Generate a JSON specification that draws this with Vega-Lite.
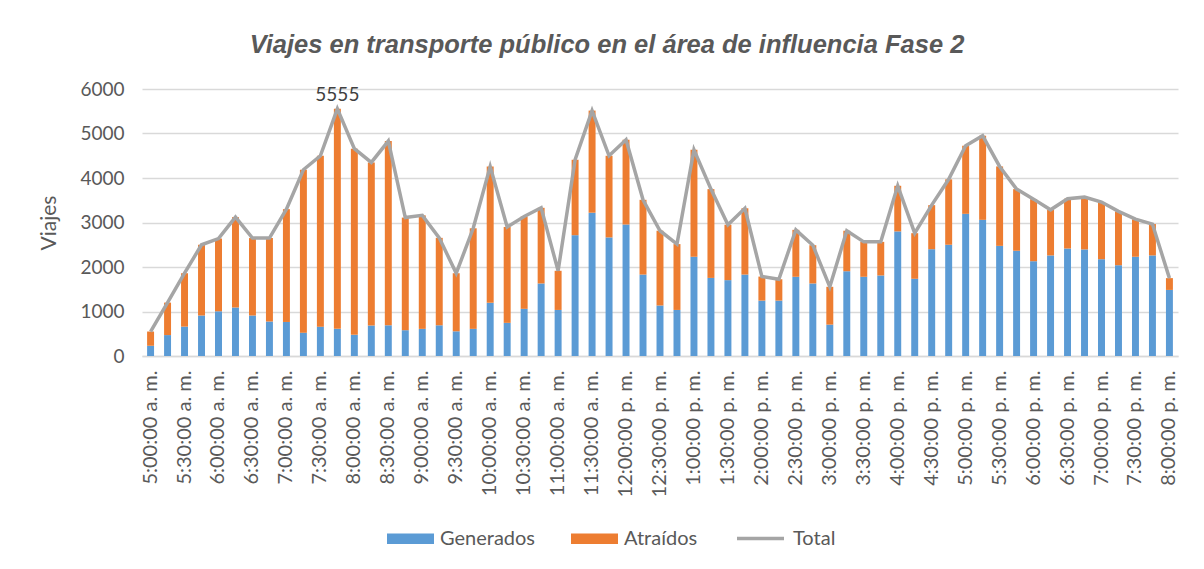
{
  "$schema": "https://vega.github.io/schema/vega-lite/v6.json",
  "width": 1036,
  "height": 267,
  "autosize": {"type": "none"},
  "padding": {"left": 142, "top": 89, "right": 26, "bottom": 213},
  "background": "white",
  "title": {
    "text": "Viajes en transporte público en el área de influencia Fase 2",
    "font": "Liberation Sans",
    "fontSize": 25.5,
    "fontWeight": "bold",
    "fontStyle": "italic",
    "color": "#595959",
    "anchor": "middle",
    "dx": -53,
    "offset": 22
  },
  "data": {
    "values": [
      {"t": "5:00:00 a. m.", "gen": 230, "atr": 320, "total": 550},
      {"t": "5:15:00 a. m.", "gen": 470, "atr": 730, "total": 1200},
      {"t": "5:30:00 a. m.", "gen": 660, "atr": 1200, "total": 1860},
      {"t": "5:45:00 a. m.", "gen": 910, "atr": 1590, "total": 2500},
      {"t": "6:00:00 a. m.", "gen": 1005, "atr": 1635, "total": 2640},
      {"t": "6:15:00 a. m.", "gen": 1090, "atr": 2030, "total": 3120},
      {"t": "6:30:00 a. m.", "gen": 910, "atr": 1740, "total": 2650},
      {"t": "6:45:00 a. m.", "gen": 775, "atr": 1875, "total": 2650},
      {"t": "7:00:00 a. m.", "gen": 765, "atr": 2535, "total": 3300},
      {"t": "7:15:00 a. m.", "gen": 525, "atr": 3660, "total": 4185},
      {"t": "7:30:00 a. m.", "gen": 660, "atr": 3840, "total": 4500},
      {"t": "7:45:00 a. m.", "gen": 610, "atr": 4945, "total": 5555},
      {"t": "8:00:00 a. m.", "gen": 475, "atr": 4185, "total": 4660},
      {"t": "8:15:00 a. m.", "gen": 685, "atr": 3665, "total": 4350},
      {"t": "8:30:00 a. m.", "gen": 690, "atr": 4140, "total": 4830},
      {"t": "8:45:00 a. m.", "gen": 580, "atr": 2530, "total": 3110},
      {"t": "9:00:00 a. m.", "gen": 610, "atr": 2550, "total": 3160},
      {"t": "9:15:00 a. m.", "gen": 690, "atr": 1965, "total": 2655},
      {"t": "9:30:00 a. m.", "gen": 555, "atr": 1305, "total": 1860},
      {"t": "9:45:00 a. m.", "gen": 610, "atr": 2260, "total": 2870},
      {"t": "10:00:00 a. m.", "gen": 1195, "atr": 3065, "total": 4260},
      {"t": "10:15:00 a. m.", "gen": 745, "atr": 2155, "total": 2900},
      {"t": "10:30:00 a. m.", "gen": 1060, "atr": 2075, "total": 3135},
      {"t": "10:45:00 a. m.", "gen": 1630, "atr": 1700, "total": 3330},
      {"t": "11:00:00 a. m.", "gen": 1035, "atr": 880, "total": 1915},
      {"t": "11:15:00 a. m.", "gen": 2715, "atr": 1695, "total": 4410},
      {"t": "11:30:00 a. m.", "gen": 3220, "atr": 2295, "total": 5515},
      {"t": "11:45:00 a. m.", "gen": 2665, "atr": 1835, "total": 4500},
      {"t": "12:00:00 p. m.", "gen": 2955, "atr": 1905, "total": 4860},
      {"t": "12:15:00 p. m.", "gen": 1830, "atr": 1680, "total": 3510},
      {"t": "12:30:00 p. m.", "gen": 1135, "atr": 1680, "total": 2815},
      {"t": "12:45:00 p. m.", "gen": 1035, "atr": 1480, "total": 2515},
      {"t": "1:00:00 p. m.", "gen": 2230, "atr": 2405, "total": 4635},
      {"t": "1:15:00 p. m.", "gen": 1755, "atr": 1995, "total": 3750},
      {"t": "1:30:00 p. m.", "gen": 1705, "atr": 1245, "total": 2950},
      {"t": "1:45:00 p. m.", "gen": 1830, "atr": 1490, "total": 3320},
      {"t": "2:00:00 p. m.", "gen": 1245, "atr": 540, "total": 1785},
      {"t": "2:15:00 p. m.", "gen": 1245, "atr": 480, "total": 1725},
      {"t": "2:30:00 p. m.", "gen": 1780, "atr": 1055, "total": 2835},
      {"t": "2:45:00 p. m.", "gen": 1630, "atr": 860, "total": 2490},
      {"t": "3:00:00 p. m.", "gen": 705, "atr": 850, "total": 1555},
      {"t": "3:15:00 p. m.", "gen": 1905, "atr": 910, "total": 2815},
      {"t": "3:30:00 p. m.", "gen": 1780, "atr": 785, "total": 2565},
      {"t": "3:45:00 p. m.", "gen": 1810, "atr": 755, "total": 2565},
      {"t": "4:00:00 p. m.", "gen": 2800, "atr": 1025, "total": 3825},
      {"t": "4:15:00 p. m.", "gen": 1735, "atr": 1025, "total": 2760},
      {"t": "4:30:00 p. m.", "gen": 2400, "atr": 990, "total": 3390},
      {"t": "4:45:00 p. m.", "gen": 2500, "atr": 1470, "total": 3970},
      {"t": "5:00:00 p. m.", "gen": 3195, "atr": 1530, "total": 4725},
      {"t": "5:15:00 p. m.", "gen": 3060, "atr": 1890, "total": 4950},
      {"t": "5:30:00 p. m.", "gen": 2475, "atr": 1785, "total": 4260},
      {"t": "5:45:00 p. m.", "gen": 2365, "atr": 1385, "total": 3750},
      {"t": "6:00:00 p. m.", "gen": 2130, "atr": 1395, "total": 3525},
      {"t": "6:15:00 p. m.", "gen": 2260, "atr": 1025, "total": 3285},
      {"t": "6:30:00 p. m.", "gen": 2415, "atr": 1120, "total": 3535},
      {"t": "6:45:00 p. m.", "gen": 2395, "atr": 1175, "total": 3570},
      {"t": "7:00:00 p. m.", "gen": 2175, "atr": 1285, "total": 3460},
      {"t": "7:15:00 p. m.", "gen": 2040, "atr": 1210, "total": 3250},
      {"t": "7:30:00 p. m.", "gen": 2230, "atr": 845, "total": 3075},
      {"t": "7:45:00 p. m.", "gen": 2260, "atr": 705, "total": 2965},
      {"t": "8:00:00 p. m.", "gen": 1485, "atr": 265, "total": 1750}
    ]
  },
  "encoding": {
    "x": {
      "field": "t",
      "type": "nominal",
      "sort": null,
      "scale": {"paddingInner": 0.59, "paddingOuter": 0.3},
      "axis": {
        "title": null,
        "labelAngle": -90,
        "labelFont": "Lato",
        "labelFontSize": 20,
        "labelColor": "#595959",
        "ticks": false,
        "domainColor": "#D9D9D9",
        "domainWidth": 1.5,
        "labelPadding": 14,
        "grid": false,
        "values": ["5:00:00 a. m.", "5:30:00 a. m.", "6:00:00 a. m.", "6:30:00 a. m.", "7:00:00 a. m.", "7:30:00 a. m.", "8:00:00 a. m.", "8:30:00 a. m.", "9:00:00 a. m.", "9:30:00 a. m.", "10:00:00 a. m.", "10:30:00 a. m.", "11:00:00 a. m.", "11:30:00 a. m.", "12:00:00 p. m.", "12:30:00 p. m.", "1:00:00 p. m.", "1:30:00 p. m.", "2:00:00 p. m.", "2:30:00 p. m.", "3:00:00 p. m.", "3:30:00 p. m.", "4:00:00 p. m.", "4:30:00 p. m.", "5:00:00 p. m.", "5:30:00 p. m.", "6:00:00 p. m.", "6:30:00 p. m.", "7:00:00 p. m.", "7:30:00 p. m.", "8:00:00 p. m."]
      }
    }
  },
  "layer": [
    {
      "transform": [{"fold": ["gen", "atr"], "as": ["serie", "v"]}],
      "mark": {"type": "bar"},
      "encoding": {
        "y": {
          "field": "v",
          "type": "quantitative",
          "stack": "zero",
          "title": "Viajes",
          "scale": {"domain": [0, 6000]},
          "axis": {
            "values": [0, 1000, 2000, 3000, 4000, 5000, 6000],
            "format": "d",
            "grid": true,
            "gridColor": "#D9D9D9",
            "gridWidth": 1.3,
            "domain": false,
            "ticks": false,
            "labelFont": "Lato",
            "labelFontSize": 19,
            "labelColor": "#595959",
            "labelPadding": 18,
            "titleFont": "Lato",
            "titleFontSize": 21,
            "titleFontWeight": "normal",
            "titleColor": "#595959",
            "titlePadding": 20
          }
        },
        "fill": {
          "field": "serie",
          "type": "nominal",
          "scale": {"domain": ["gen", "atr"], "range": ["#5B9BD5", "#ED7D31"]},
          "legend": {
            "orient": "none",
            "legendX": 245,
            "legendY": 426,
            "direction": "horizontal",
            "title": null,
            "symbolType": "M-1,-0.22H1V0.22H-1Z",
            "symbolSize": 2209,
            "symbolStrokeWidth": 0,
            "labelFont": "Lato",
            "labelFontSize": 20,
            "labelColor": "#595959",
            "labelOffset": 6,
            "columnPadding": 35,
            "labelExpr": "datum.label == 'gen' ? 'Generados' : 'Atraídos'"
          }
        },
        "order": {"field": "serie", "sort": "descending"}
      }
    },
    {
      "mark": {"type": "line", "strokeWidth": 3.5},
      "encoding": {
        "y": {"field": "total", "type": "quantitative", "title": "Viajes"},
        "stroke": {
          "datum": "Total",
          "scale": {"range": ["#A5A5A5"]},
          "legend": {
            "orient": "none",
            "legendX": 593,
            "legendY": 424,
            "title": null,
            "symbolType": "stroke",
            "symbolSize": 2209,
            "symbolStrokeWidth": 3.5,
            "labelFont": "Lato",
            "labelFontSize": 20,
            "labelColor": "#595959",
            "labelOffset": 7
          }
        }
      }
    },
    {
      "transform": [{"filter": "datum.total == 5555"}],
      "mark": {"type": "text", "dy": -14, "fontSize": 19, "font": "Lato", "color": "#404040"},
      "encoding": {
        "y": {"field": "total", "type": "quantitative", "title": "Viajes"},
        "text": {"field": "total", "type": "quantitative", "format": "d"}
      }
    }
  ],
  "config": {
    "view": {"stroke": null}
  }
}
